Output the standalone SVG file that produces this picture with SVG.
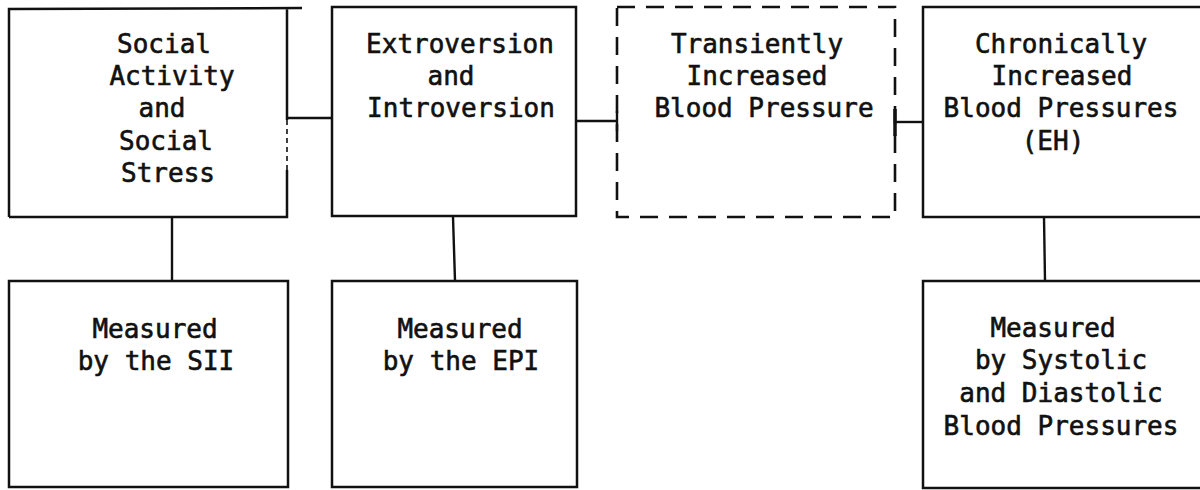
<svg xmlns="http://www.w3.org/2000/svg" width="1200" height="490" viewBox="0 0 1200 490">
<style>
.b{fill:none;stroke:#111;stroke-width:2.5}
.d{fill:none;stroke:#111;stroke-width:2.6;stroke-dasharray:18 11}
.c{fill:none;stroke:#111;stroke-width:2.4}
text{font-family:"DejaVu Sans Mono","Liberation Mono",monospace;font-size:26px;fill:#111;stroke:#111;stroke-width:0.6;text-anchor:middle}
</style>
<rect width="1200" height="490" fill="#fff"/>
<g id="connectors">
<line class="c" x1="287" y1="118" x2="332" y2="118"/>
<line class="c" x1="576" y1="121" x2="617" y2="121"/>
<line class="c" x1="617" y1="111" x2="617" y2="131"/>
<line class="c" x1="895" y1="122" x2="923" y2="122"/>
<line x1="895" y1="109" x2="895" y2="136" stroke="#111" stroke-width="3.5"/>
<line class="c" x1="172" y1="217" x2="172" y2="281"/>
<line class="c" x1="453" y1="217" x2="455" y2="281"/>
<line class="c" x1="1044" y1="217" x2="1045" y2="281"/>
</g>
<g id="n1">
<path class="b" d="M9 217 L9 9 L302 8 M287 8 L287 120 M287 170 L287 217 L9 217"/>
<line x1="287" y1="120" x2="287" y2="170" stroke="#111" stroke-width="1.6" stroke-dasharray="5 4"/>
<text x="164" y="53">Social</text>
<text x="172" y="85">Activity</text>
<text x="162" y="117">and</text>
<text x="166" y="150">Social</text>
<text x="168" y="182">Stress</text>
</g>
<g id="n2">
<rect class="b" x="332" y="7" width="244" height="209"/>
<text x="460" y="53">Extroversion</text>
<text x="451" y="85">and</text>
<text x="461" y="117">Introversion</text>
</g>
<g id="n3">
<rect class="d" x="617" y="7" width="278" height="210"/>
<text x="757" y="53">Transiently</text>
<text x="757" y="85">Increased</text>
<text x="764" y="117">Blood Pressure</text>
</g>
<g id="n4">
<rect class="b" x="923" y="7" width="285" height="210"/>
<text x="1061" y="53">Chronically</text>
<text x="1062" y="85">Increased</text>
<text x="1061" y="117">Blood Pressures</text>
<text x="1053" y="150">(EH)</text>
</g>
<g id="n5">
<rect class="b" x="9" y="281" width="279" height="206"/>
<text x="155" y="338">Measured</text>
<text x="156" y="370">by the SII</text>
</g>
<g id="n6">
<rect class="b" x="332" y="281" width="245" height="206"/>
<text x="460" y="338">Measured</text>
<text x="461" y="370">by the EPI</text>
</g>
<g id="n7">
<rect class="b" x="923" y="281" width="285" height="207"/>
<text x="1053" y="337">Measured</text>
<text x="1061" y="369">by Systolic</text>
<text x="1061" y="402">and Diastolic</text>
<text x="1061" y="435">Blood Pressures</text>
</g>
</svg>
